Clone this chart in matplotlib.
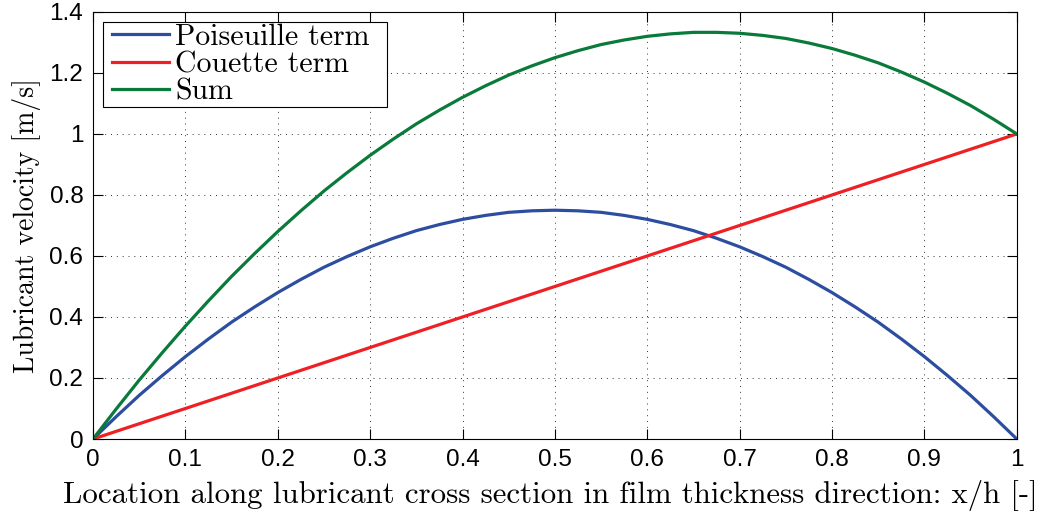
import matplotlib
matplotlib.use("Agg")
import matplotlib.pyplot as plt
from matplotlib.lines import Line2D
from matplotlib.legend_handler import HandlerLine2D
from matplotlib.ticker import FuncFormatter

# velocity profile across the film, sampled every 0.025 of x/h
x_h = [0.0, 0.025, 0.05, 0.075, 0.1, 0.125, 0.15, 0.175, 0.2, 0.225,
       0.25, 0.275, 0.3, 0.325, 0.35, 0.375, 0.4, 0.425, 0.45, 0.475,
       0.5, 0.525, 0.55, 0.575, 0.6, 0.625, 0.65, 0.675, 0.7, 0.725,
       0.75, 0.775, 0.8, 0.825, 0.85, 0.875, 0.9, 0.925, 0.95, 0.975, 1.0]
poiseuille = [0.0, 0.073, 0.143, 0.208, 0.27, 0.328, 0.383, 0.433, 0.48, 0.523,
              0.563, 0.598, 0.63, 0.658, 0.683, 0.703, 0.72, 0.733, 0.743, 0.748,
              0.75, 0.748, 0.743, 0.733, 0.72, 0.703, 0.683, 0.658, 0.63, 0.598,
              0.563, 0.523, 0.48, 0.433, 0.383, 0.328, 0.27, 0.208, 0.143, 0.073, 0.0]
couette = [0.0, 0.025, 0.05, 0.075, 0.1, 0.125, 0.15, 0.175, 0.2, 0.225,
           0.25, 0.275, 0.3, 0.325, 0.35, 0.375, 0.4, 0.425, 0.45, 0.475,
           0.5, 0.525, 0.55, 0.575, 0.6, 0.625, 0.65, 0.675, 0.7, 0.725,
           0.75, 0.775, 0.8, 0.825, 0.85, 0.875, 0.9, 0.925, 0.95, 0.975, 1.0]
total = [0.0, 0.098, 0.193, 0.283, 0.37, 0.453, 0.533, 0.608, 0.68, 0.748,
         0.813, 0.873, 0.93, 0.983, 1.033, 1.078, 1.12, 1.158, 1.193, 1.223,
         1.25, 1.273, 1.293, 1.308, 1.32, 1.328, 1.333, 1.333, 1.33, 1.323,
         1.313, 1.298, 1.28, 1.258, 1.233, 1.203, 1.17, 1.133, 1.093, 1.048, 1.0]

labels = ["Poiseuille term", "Couette term", "Sum"]
colors = ["#2d4ea0", "#ee2024", "#0a7a3a"]

x_ticks = [0, 0.1, 0.2, 0.3, 0.4, 0.5, 0.6, 0.7, 0.8, 0.9, 1.0]
y_ticks = [0, 0.2, 0.4, 0.6, 0.8, 1.0, 1.2, 1.4]

serif = "cmr10"
tick_font = "Liberation Sans"

fig = plt.figure(figsize=(10.45, 5.18), dpi=100)
ax = fig.add_axes([0.089, 0.1525, 0.884, 0.8245])

for ys, lab, col in zip([poiseuille, couette, total], labels, colors):
    ax.plot(x_h, ys, color=col, lw=2.3, label=lab)

ax.set_xlim(0, 1)
ax.set_ylim(0, 1.4)
ax.set_xticks(x_ticks)
ax.set_yticks(y_ticks)
fmt = FuncFormatter(lambda v, pos: "%g" % round(v, 2))
ax.xaxis.set_major_formatter(fmt)
ax.yaxis.set_major_formatter(fmt)

ax.tick_params(direction="in", length=7, width=0.8, top=True, right=True,
               labelsize=17.5, pad=7)
for lbl in ax.get_xticklabels() + ax.get_yticklabels():
    lbl.set_fontname(tick_font)
ax.grid(True, linestyle=(0, (1, 5)), color="#333333", lw=0.7)
for sp in ax.spines.values():
    sp.set_linewidth(0.8)

ax.set_xlabel("Location along lubricant cross section in film thickness direction: x/h [-]",
              fontname=serif, fontsize=22.2, labelpad=5)
ax.xaxis.set_label_coords(0.4946, -0.095)
ax.set_ylabel("Lubricant velocity [m/s]", fontname=serif, fontsize=20, labelpad=6)

# fixed-width legend box, handles inset a little from the frame
leg = ax.legend(loc="upper left", bbox_to_anchor=(0.0108, 0, 0.307, 0.9766),
                mode="expand", borderaxespad=0,
                prop={"family": serif, "size": 21.5},
                fancybox=False, edgecolor="black", framealpha=1,
                handlelength=2.15, handletextpad=0.22, labelspacing=0.0,
                borderpad=0.05,
                handler_map={Line2D: HandlerLine2D(xpad=0.25)})
leg.get_frame().set_linewidth(0.8)

fig.savefig("out.png", dpi=100)
